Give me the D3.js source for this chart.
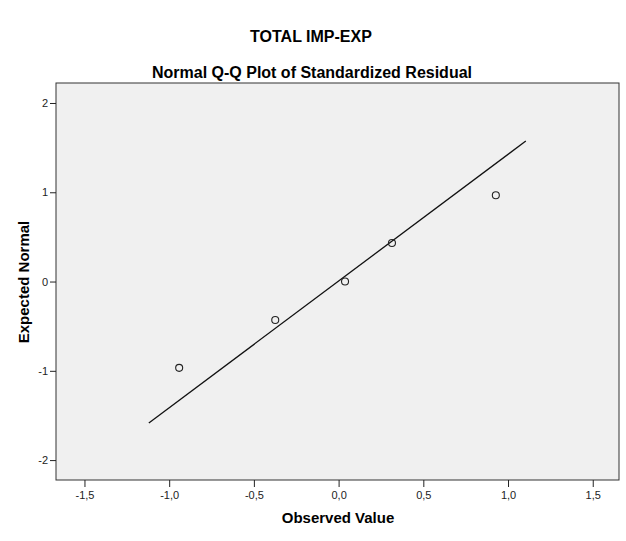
<!DOCTYPE html>
<html>
<head>
<meta charset="utf-8">
<script src="https://cdn.jsdelivr.net/npm/d3@7/dist/d3.min.js"></script>
<style>
  html, body { margin: 0; padding: 0; background: #fff; }
  svg { display: block; font-family: "Liberation Sans", Arial, sans-serif; }
</style>
</head>
<body>
<svg id="chart" width="626" height="541"></svg>
<script>
// ---- data ----
const chartTitle = "TOTAL IMP-EXP";
const chartSubtitle = "Normal Q-Q Plot of Standardized Residual";
const xLabel = "Observed Value";
const yLabel = "Expected Normal";
const observed = [-0.941, -0.374, 0.038, 0.315, 0.928];
const expected = [-0.967, -0.431, 0.0, 0.431, 0.967];
const lineObserved = [-1.12, 1.105];
const lineExpected = [-1.584, 1.574];
const xTicks = [-1.5, -1.0, -0.5, 0.0, 0.5, 1.0, 1.5];
const yTicks = [-2, -1, 0, 1, 2];

// ---- layout ----
const svg = d3.select("#chart");
const plot = { left: 56, right: 619, top: 83, bottom: 480 };

const x = d3.scaleLinear().domain([-1.668, 1.655]).range([plot.left, plot.right]);
const y = d3.scaleLinear().domain([-2.223, 2.224]).range([plot.bottom, plot.top]);

// titles
svg.append("text").attr("x", 311).attr("y", 42).attr("text-anchor", "middle")
  .attr("font-size", 16).attr("font-weight", "bold").attr("fill", "#000").text(chartTitle);
svg.append("text").attr("x", 312).attr("y", 78).attr("text-anchor", "middle")
  .attr("font-size", 16).attr("font-weight", "bold").attr("fill", "#000").text(chartSubtitle);

// plot background
svg.append("rect")
  .attr("x", plot.left).attr("y", plot.top)
  .attr("width", plot.right - plot.left).attr("height", plot.bottom - plot.top)
  .attr("fill", "#f0f0f0").attr("stroke", "#333").attr("stroke-width", 1);

const fmtX = d => d3.format(".1f")(d).replace(".", ",").replace("−", "-");
const fmtY = d => String(d);

// x axis
const gx = svg.append("g").attr("transform", `translate(0,${plot.bottom})`)
  .call(d3.axisBottom(x).tickValues(xTicks).tickFormat(fmtX).tickSize(7).tickPadding(4));
gx.select(".domain").remove();
gx.selectAll(".tick line").attr("stroke", "#222");
gx.selectAll(".tick text").attr("font-size", 11).attr("fill", "#222")
  .attr("font-family", "'Liberation Sans', Arial, sans-serif");

// y axis
const gy = svg.append("g").attr("transform", `translate(${plot.left},0)`)
  .call(d3.axisLeft(y).tickValues(yTicks).tickFormat(fmtY).tickSize(6).tickPadding(2));
gy.select(".domain").remove();
gy.selectAll(".tick line").attr("stroke", "#222");
gy.selectAll(".tick text").attr("font-size", 11).attr("fill", "#222")
  .attr("font-family", "'Liberation Sans', Arial, sans-serif");

// axis labels
svg.append("text").attr("x", 338).attr("y", 523).attr("text-anchor", "middle")
  .attr("font-size", 15).attr("font-weight", "bold").attr("fill", "#000").text(xLabel);
svg.append("text").attr("transform", `translate(29,${282}) rotate(-90)`).attr("text-anchor", "middle")
  .attr("font-size", 15).attr("font-weight", "bold").attr("fill", "#000").text(yLabel);

// reference line
svg.append("line")
  .attr("x1", x(lineObserved[0])).attr("y1", y(lineExpected[0]))
  .attr("x2", x(lineObserved[1])).attr("y2", y(lineExpected[1]))
  .attr("stroke", "#111").attr("stroke-width", 1.3);

// points
svg.append("g").selectAll("circle").data(observed).join("circle")
  .attr("cx", d => x(d)).attr("cy", (d, i) => y(expected[i]))
  .attr("r", 3.5).attr("fill", "none").attr("stroke", "#222").attr("stroke-width", 1.1);
</script>
</body>
</html>
